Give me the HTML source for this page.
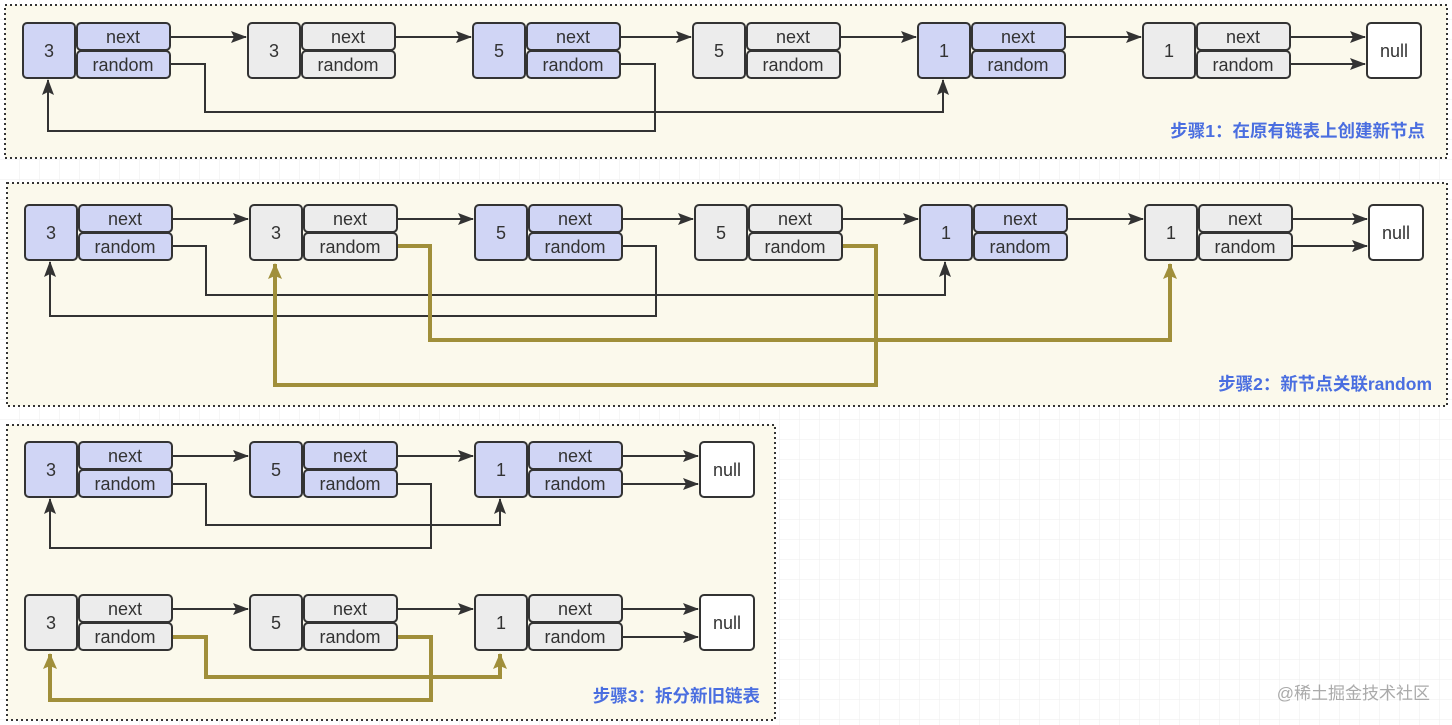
<!DOCTYPE html>
<html><head><meta charset="utf-8"><style>
html,body{margin:0;padding:0;background:#fff;}
svg{display:block;font-family:"Liberation Sans","Noto Sans CJK SC",sans-serif;}
</style></head><body>
<svg width="1452" height="725" viewBox="0 0 1452 725" xmlns="http://www.w3.org/2000/svg">
<defs>
<pattern id="grid" width="20" height="20" patternUnits="userSpaceOnUse"><path d="M20 0V20H0" fill="none" stroke="#eeeeee" stroke-width="1"/></pattern>
<marker id="ab" markerWidth="16" markerHeight="12" refX="15" refY="6" orient="auto" markerUnits="userSpaceOnUse"><path d="M0 0L16 6L0 12L3 6Z" fill="#333"/></marker>
<marker id="ao" markerWidth="16" markerHeight="14" refX="15" refY="7" orient="auto" markerUnits="userSpaceOnUse"><path d="M0 0L16 7L0 14L3 7Z" fill="#a08f3a"/></marker>
</defs>
<rect width="1452" height="725" fill="url(#grid)"/>
<rect x="5" y="5" width="1442" height="153" fill="#fbf9ec" stroke="#333" stroke-width="2" stroke-dasharray="2 3"/>
<rect x="7" y="183" width="1440" height="223" fill="#fbf9ec" stroke="#333" stroke-width="2" stroke-dasharray="2 3"/>
<rect x="7" y="425" width="768" height="295" fill="#fbf9ec" stroke="#333" stroke-width="2" stroke-dasharray="2 3"/>

<g stroke="#333" stroke-width="2" fill="none">
<path d="M170 37H246" marker-end="url(#ab)"/><path d="M395 37H471" marker-end="url(#ab)"/><path d="M620 37H691" marker-end="url(#ab)"/><path d="M840 37H916" marker-end="url(#ab)"/><path d="M1065 37H1141" marker-end="url(#ab)"/><path d="M1290 37H1365" marker-end="url(#ab)"/><path d="M1290 64H1365" marker-end="url(#ab)"/>
<path d="M170 64H205V112H943V80" marker-end="url(#ab)"/>
<path d="M620 64H655V131H48V80" marker-end="url(#ab)"/>
<path d="M172 219H248" marker-end="url(#ab)"/><path d="M397 219H473" marker-end="url(#ab)"/><path d="M622 219H693" marker-end="url(#ab)"/><path d="M842 219H918" marker-end="url(#ab)"/><path d="M1067 219H1143" marker-end="url(#ab)"/><path d="M1292 219H1367" marker-end="url(#ab)"/><path d="M1292 246H1367" marker-end="url(#ab)"/>
<path d="M172 246H206V295H945V262" marker-end="url(#ab)"/>
<path d="M622 246H656V316H50V262" marker-end="url(#ab)"/>
<path d="M172 456H248" marker-end="url(#ab)"/><path d="M397 456H473" marker-end="url(#ab)"/><path d="M622 456H698" marker-end="url(#ab)"/><path d="M622 484H698" marker-end="url(#ab)"/>
<path d="M172 484H206V525H500V499" marker-end="url(#ab)"/>
<path d="M397 484H431V548H50V499" marker-end="url(#ab)"/>
<path d="M172 609H248" marker-end="url(#ab)"/><path d="M397 609H473" marker-end="url(#ab)"/><path d="M622 609H698" marker-end="url(#ab)"/><path d="M622 637H698" marker-end="url(#ab)"/>
</g>
<g stroke="#a08f3a" stroke-width="4" fill="none">
<path d="M397 246H430V340H1170V264" marker-end="url(#ao)"/>
<path d="M842 246H876V385H275V264" marker-end="url(#ao)"/>
<path d="M172 637H206V677H500V654" marker-end="url(#ao)"/>
<path d="M397 637H431V700H50V654" marker-end="url(#ao)"/>
</g>

<g stroke="#333" stroke-width="2" fill="#333">
<g transform="translate(23,23)" fill="#d0d5f5"><rect width="52" height="55" rx="4"/><rect x="54" width="93" height="27" rx="4"/><rect x="54" y="28" width="93" height="27" rx="4"/></g>
<g transform="translate(248,23)" fill="#ececec"><rect width="52" height="55" rx="4"/><rect x="54" width="93" height="27" rx="4"/><rect x="54" y="28" width="93" height="27" rx="4"/></g>
<g transform="translate(473,23)" fill="#d0d5f5"><rect width="52" height="55" rx="4"/><rect x="54" width="93" height="27" rx="4"/><rect x="54" y="28" width="93" height="27" rx="4"/></g>
<g transform="translate(693,23)" fill="#ececec"><rect width="52" height="55" rx="4"/><rect x="54" width="93" height="27" rx="4"/><rect x="54" y="28" width="93" height="27" rx="4"/></g>
<g transform="translate(918,23)" fill="#d0d5f5"><rect width="52" height="55" rx="4"/><rect x="54" width="93" height="27" rx="4"/><rect x="54" y="28" width="93" height="27" rx="4"/></g>
<g transform="translate(1143,23)" fill="#ececec"><rect width="52" height="55" rx="4"/><rect x="54" width="93" height="27" rx="4"/><rect x="54" y="28" width="93" height="27" rx="4"/></g>
<rect x="1367" y="23" width="54" height="55" rx="4" fill="#fff"/>
<g transform="translate(25,205)" fill="#d0d5f5"><rect width="52" height="55" rx="4"/><rect x="54" width="93" height="27" rx="4"/><rect x="54" y="28" width="93" height="27" rx="4"/></g>
<g transform="translate(250,205)" fill="#ececec"><rect width="52" height="55" rx="4"/><rect x="54" width="93" height="27" rx="4"/><rect x="54" y="28" width="93" height="27" rx="4"/></g>
<g transform="translate(475,205)" fill="#d0d5f5"><rect width="52" height="55" rx="4"/><rect x="54" width="93" height="27" rx="4"/><rect x="54" y="28" width="93" height="27" rx="4"/></g>
<g transform="translate(695,205)" fill="#ececec"><rect width="52" height="55" rx="4"/><rect x="54" width="93" height="27" rx="4"/><rect x="54" y="28" width="93" height="27" rx="4"/></g>
<g transform="translate(920,205)" fill="#d0d5f5"><rect width="52" height="55" rx="4"/><rect x="54" width="93" height="27" rx="4"/><rect x="54" y="28" width="93" height="27" rx="4"/></g>
<g transform="translate(1145,205)" fill="#ececec"><rect width="52" height="55" rx="4"/><rect x="54" width="93" height="27" rx="4"/><rect x="54" y="28" width="93" height="27" rx="4"/></g>
<rect x="1369" y="205" width="54" height="55" rx="4" fill="#fff"/>
<g transform="translate(25,442)" fill="#d0d5f5"><rect width="52" height="55" rx="4"/><rect x="54" width="93" height="27" rx="4"/><rect x="54" y="28" width="93" height="27" rx="4"/></g>
<g transform="translate(250,442)" fill="#d0d5f5"><rect width="52" height="55" rx="4"/><rect x="54" width="93" height="27" rx="4"/><rect x="54" y="28" width="93" height="27" rx="4"/></g>
<g transform="translate(475,442)" fill="#d0d5f5"><rect width="52" height="55" rx="4"/><rect x="54" width="93" height="27" rx="4"/><rect x="54" y="28" width="93" height="27" rx="4"/></g>
<rect x="700" y="442" width="54" height="55" rx="4" fill="#fff"/>
<g transform="translate(25,595)" fill="#ececec"><rect width="52" height="55" rx="4"/><rect x="54" width="93" height="27" rx="4"/><rect x="54" y="28" width="93" height="27" rx="4"/></g>
<g transform="translate(250,595)" fill="#ececec"><rect width="52" height="55" rx="4"/><rect x="54" width="93" height="27" rx="4"/><rect x="54" y="28" width="93" height="27" rx="4"/></g>
<g transform="translate(475,595)" fill="#ececec"><rect width="52" height="55" rx="4"/><rect x="54" width="93" height="27" rx="4"/><rect x="54" y="28" width="93" height="27" rx="4"/></g>
<rect x="700" y="595" width="54" height="55" rx="4" fill="#fff"/>
</g>

<g font-size="18" fill="#333" text-anchor="middle">
<text x="49" y="57">3</text><text x="123" y="43">next</text><text x="123" y="71">random</text>
<text x="274" y="57">3</text><text x="348" y="43">next</text><text x="348" y="71">random</text>
<text x="499" y="57">5</text><text x="573" y="43">next</text><text x="573" y="71">random</text>
<text x="719" y="57">5</text><text x="793" y="43">next</text><text x="793" y="71">random</text>
<text x="944" y="57">1</text><text x="1018" y="43">next</text><text x="1018" y="71">random</text>
<text x="1169" y="57">1</text><text x="1243" y="43">next</text><text x="1243" y="71">random</text>
<text x="1394" y="57">null</text>
<text x="51" y="239">3</text><text x="125" y="225">next</text><text x="125" y="253">random</text>
<text x="276" y="239">3</text><text x="350" y="225">next</text><text x="350" y="253">random</text>
<text x="501" y="239">5</text><text x="575" y="225">next</text><text x="575" y="253">random</text>
<text x="721" y="239">5</text><text x="795" y="225">next</text><text x="795" y="253">random</text>
<text x="946" y="239">1</text><text x="1020" y="225">next</text><text x="1020" y="253">random</text>
<text x="1171" y="239">1</text><text x="1245" y="225">next</text><text x="1245" y="253">random</text>
<text x="1396" y="239">null</text>
<text x="51" y="476">3</text><text x="125" y="462">next</text><text x="125" y="490">random</text>
<text x="276" y="476">5</text><text x="350" y="462">next</text><text x="350" y="490">random</text>
<text x="501" y="476">1</text><text x="575" y="462">next</text><text x="575" y="490">random</text>
<text x="727" y="476">null</text>
<text x="51" y="629">3</text><text x="125" y="615">next</text><text x="125" y="643">random</text>
<text x="276" y="629">5</text><text x="350" y="615">next</text><text x="350" y="643">random</text>
<text x="501" y="629">1</text><text x="575" y="615">next</text><text x="575" y="643">random</text>
<text x="727" y="629">null</text>
</g>
<g font-size="17.5" fill="#4a6ee0" text-anchor="end" font-weight="bold">
<text x="1425" y="137">步骤1：在原有链表上创建新节点</text>
<text x="1432" y="390">步骤2：新节点关联random</text>
<text x="760" y="702">步骤3：拆分新旧链表</text>
</g>
<text x="1430" y="699" font-size="17" fill="#aaaaaa" text-anchor="end">@稀土掘金技术社区</text>
</svg>
</body></html>
